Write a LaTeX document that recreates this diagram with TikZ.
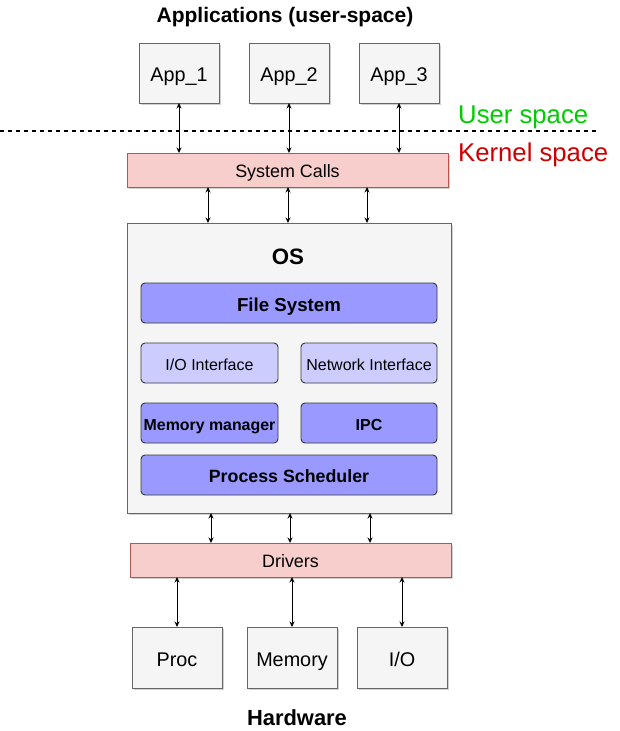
\documentclass[tikz,border=0pt]{standalone}
\usepackage{fontspec}
\setmainfont{Liberation Sans}
\usetikzlibrary{arrows.meta,shadows}
\definecolor{boxfill}{HTML}{F5F5F5}
\definecolor{boxline}{HTML}{666666}
\definecolor{pinkfill}{HTML}{F8CECC}
\definecolor{pinkline}{HTML}{B85450}
\definecolor{purp}{HTML}{9999FF}
\definecolor{lpurp}{HTML}{CCCCFF}
\definecolor{purpline}{HTML}{36393D}
\definecolor{ugreen}{HTML}{00CC00}
\definecolor{kred}{HTML}{CC0000}
\tikzset{
  every node/.append style={execute at begin node={\rule[-0.22em]{0pt}{1.32em}}},
  shad/.style={drop shadow={shadow xshift=2pt,shadow yshift=-2pt,opacity=0.3,fill=black!60}},
  graybox/.style={shad,draw=boxline,fill=boxfill,line width=0.9pt,inner sep=0pt,outer sep=0pt},
  pinkbox/.style={shad,draw=pinkline,fill=pinkfill,line width=0.9pt,inner sep=0pt,outer sep=0pt,minimum width=321pt,minimum height=34pt,font=\fontsize{17.9}{20}\selectfont},
  rbox/.style={draw=purpline,rounded corners=4pt,line width=0.9pt,inner sep=0pt,outer sep=0pt,minimum height=40pt},
  arr/.style={{Stealth[length=5.5pt,width=5pt]}-{Stealth[length=5.5pt,width=5pt]},line width=1pt,black},
}
\begin{document}
\begin{tikzpicture}[x=1pt,y=-1pt]
\useasboundingbox (0,0) rectangle (619,731);
% titles
\node[font=\fontsize{21}{24}\bfseries\selectfont] (apptitle) at (285,13) {Applications (user-space)};
\node[font=\fontsize{21.9}{24}\bfseries\selectfont] (hwtitle) at (297,716) {Hardware};
% apps
\foreach \n/\x in {1/179,2/289,3/399}{
  \node[graybox,minimum width=80pt,minimum height=60pt,font=\fontsize{19.8}{22}\selectfont] (app\n) at (\x,73) {App\_\n};
}
% dashed line and labels
\coordinate (dl1) at (0,131);
\coordinate (dl2) at (596,131);
\draw[dash pattern=on 4pt off 4pt,line width=1.3pt] (dl1) -- (dl2);
\node[anchor=west,text=ugreen,font=\fontsize{25.7}{28}\selectfont,inner sep=0pt] (us) at (458,112) {User space};
\node[anchor=west,text=kred,font=\fontsize{25.7}{28}\selectfont,inner sep=0pt] (ks) at (458,150) {Kernel space};
% system calls
\node[pinkbox] (sc) at (287.5,170) {System Calls};
% OS
\node[graybox,minimum width=324pt,minimum height=290pt] (os) at (289,368) {};
\node[font=\fontsize{22.3}{24}\bfseries\selectfont] (ostitle) at (288,255) {OS};
\node[rbox,fill=purp,minimum width=296pt,font=\fontsize{18.7}{21}\bfseries\selectfont] (fs) at (289,303) {File System};
\node[rbox,fill=lpurp,minimum width=137pt,font=\fontsize{16}{18}\selectfont] (ioi) at (209.5,363) {I/O Interface};
\node[rbox,fill=lpurp,minimum width=136pt,font=\fontsize{16}{18}\selectfont] (nif) at (369,363) {Network Interface};
\node[rbox,fill=purp,minimum width=137pt,font=\fontsize{15.9}{18}\bfseries\selectfont] (mm) at (209.5,423) {Memory manager};
\node[rbox,fill=purp,minimum width=136pt,font=\fontsize{16}{18}\bfseries\selectfont] (ipc) at (369,423) {IPC};
\node[rbox,fill=purp,minimum width=296pt,font=\fontsize{17.8}{20}\bfseries\selectfont] (ps) at (289,475) {Process Scheduler};
% drivers
\node[pinkbox] (drv) at (290.5,560) {Drivers};
% hardware
\node[graybox,minimum width=90pt,minimum height=61pt,font=\fontsize{19.8}{22}\selectfont] (proc) at (177,657.5) {Proc};
\node[graybox,minimum width=90pt,minimum height=61pt,font=\fontsize{19.8}{22}\selectfont] (mem) at (292,657.5) {Memory};
\node[graybox,minimum width=90pt,minimum height=61pt,font=\fontsize{19.8}{22}\selectfont] (io) at (402,657.5) {I/O};
% arrows apps - system calls
\foreach \n in {1,2,3}{
  \draw[arr] (app\n.south) -- (app\n.south |- sc.north);
}
% system calls - OS
\foreach \s in {-79.5,0.5,79.5}{
  \draw[arr] ([xshift=\s pt]sc.south) -- ([xshift=\s pt]sc.south |- os.north);
}
% OS - drivers
\foreach \s in {-78,1,81}{
  \draw[arr] ([xshift=\s pt]os.south) -- ([xshift=\s pt]os.south |- drv.north);
}
% drivers - hardware
\foreach \h in {proc,mem,io}{
  \draw[arr] (\h.north |- drv.south) -- (\h.north);
}
\end{tikzpicture}
\end{document}
